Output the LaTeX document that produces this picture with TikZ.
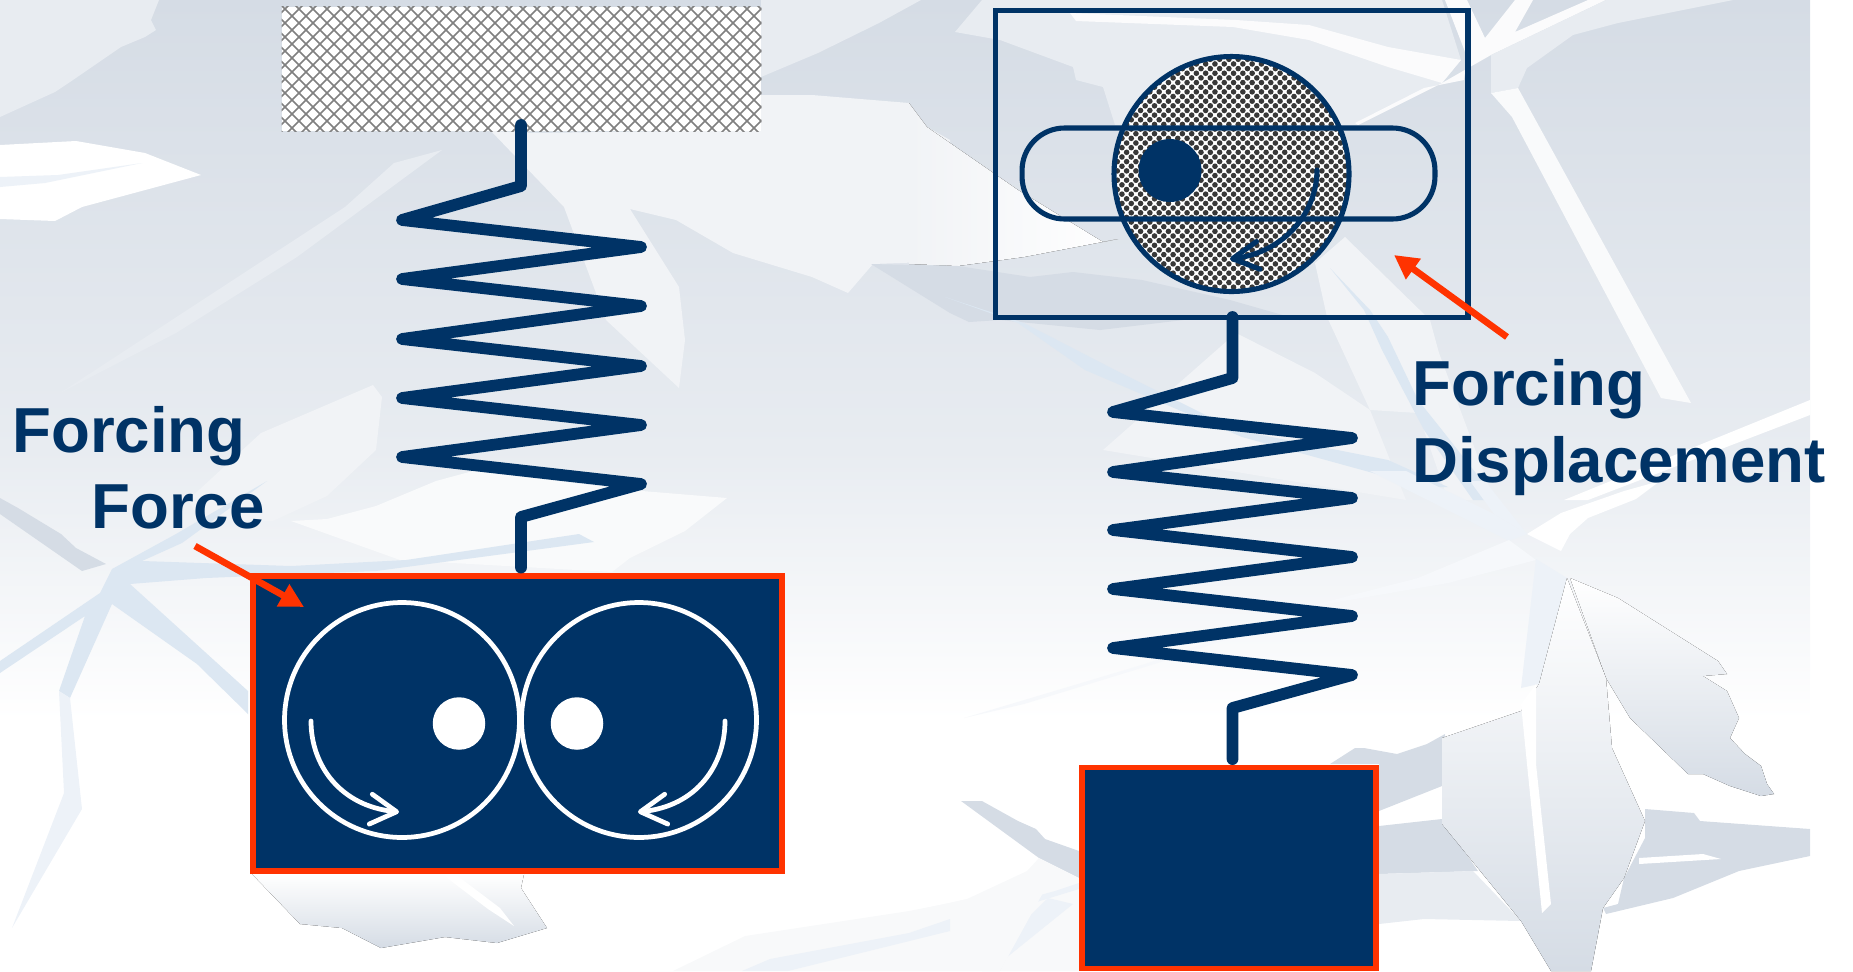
\documentclass[tikz,border=0pt]{standalone}
\usepackage{fontspec}
\setmainfont{Liberation Sans}
\usetikzlibrary{arrows.meta, calc}
\definecolor{cnavy}{HTML}{003366}
\definecolor{cred}{HTML}{FF3300}
\definecolor{cdark}{HTML}{D5DCE5}
\definecolor{cmid}{HTML}{E8ECF1}
\definecolor{clite}{HTML}{F1F3F6}
\definecolor{cblue}{HTML}{DCE7F2}
\definecolor{cpale}{HTML}{EDF2F8}
\tikzset{
  every picture/.style={x=0.02cm, y=-0.02cm},
  facet/.style={fill=#1, draw=none},
  leaf/.style={top color=white, bottom color=cdark, draw=none},
  spring/.style={draw=cnavy, line width=6.7pt, line join=round, line cap=round, shorten >=3.3pt},
  weight/.style={draw=cred, fill=cnavy, line width=3pt, inner sep=0pt},
  wheel/.style={circle, draw=white, line width=2.7pt, minimum size=4.7cm, inner sep=0pt},
  pin/.style={circle, fill=white, minimum size=1.05cm, inner sep=0pt},
  spin/.style={draw=white, line width=2.7pt, line cap=round, -{Straight Barb[length=5.2mm, width=6mm, round]}},
  tag/.style={-{Triangle[length=4.8mm, width=4.8mm]}, draw=cred, line width=3.8pt},
  label/.style={anchor=base west, inner sep=0pt, text=cnavy, font=\fontsize{36.2}{40}\selectfont\bfseries},
}
\begin{document}
\begin{tikzpicture}
  \useasboundingbox (0,0) rectangle (1853,971);

  % backdrop
  \fill[top color=cdark, bottom color=cmid] (0,0) rectangle (1810,450);
  \fill[top color=cmid, bottom color=white] (0,450) rectangle (1810,720);
  \fill[facet=cmid] (0,0) -- (159,0) -- (151,20) -- (156,30) -- (145,37) -- (121,47) -- (73,80) -- (55,92) -- (0,117) -- cycle;
  \fill[facet=white] (0,145) -- (76,141) -- (145,153) -- (201,175) -- (82,207) -- (55,221) -- (0,219) -- cycle;
  \fill[facet=cpale] (0,177) -- (58,175) -- (142,163) -- (45,183) -- (0,187) -- cycle;
  \fill[facet=cmid] (394,163) -- (442,150) -- (297,257) -- (176,333) -- (60,393) -- (345,207) -- cycle;
  \fill[facet=cmid] (761,0) -- (921,0) -- (879,23) -- (818,53) -- (761,77) -- cycle;
  \fill[facet=clite] (491,131) -- (533,133) -- (761,130) -- (761,95) -- (812,95) -- (909,103) -- (927,127) -- (950,140) -- (950,263) -- (927,262) -- (873,264) -- (848,293) -- (812,277) -- (733,253) -- (676,220) -- (630,209) -- (679,287) -- (685,340) -- (679,388) -- (606,320) -- (564,207) -- cycle;
  \fill[left color=clite, right color=white, draw=none] (909,103) -- (927,127) -- (1018,190) -- (1103,242) -- (1118,239) -- (1024,257) -- (958,266) -- (909,264) -- cycle;
  \fill[facet=cmid] (982,0) -- (1442,0) -- (1461,60) -- (1442,83) -- (1358,125) -- (1115,125) -- (1103,87) -- (1076,80) -- (1073,67) -- (1000,40) -- (955,32) -- cycle;
  \fill[facet=white!70!clite] (1070,13) -- (1236,20) -- (1309,25) -- (1388,47) -- (1461,60) -- (1442,83) -- (1388,67) -- (1309,40) -- (1233,27) -- (1076,21) -- cycle;
  \fill[facet=white!70!clite] (1445,0) -- (1467,0) -- (1485,38) -- (1515,0) -- (1533,0) -- (1515,32) -- (1588,0) -- (1606,0) -- (1491,55) -- (1442,83) -- (1358,125) -- (1355,123) -- (1424,88) -- (1464,80) -- (1467,57) -- cycle;
  \fill[facet=cmid] (1606,0) -- (1733,0) -- (1618,23) -- (1573,35) -- (1527,68) -- (1518,88) -- (1491,93) -- (1491,55) -- cycle;
  \fill[facet=white!60!clite] (1518,88) -- (1691,403) -- (1661,398) -- (1512,117) -- (1491,93) -- cycle;
  \fill[facet=cdark] (871,264) -- (958,266) -- (1030,277) -- (1073,272) -- (1142,280) -- (1230,300) -- (1300,320) -- (1200,318) -- (1100,330) -- (1000,320) -- (969,322) -- (950,313) -- cycle;
  \fill[facet=clite] (1236,333) -- (1315,373) -- (1370,410) -- (1406,500) -- (1103,450) -- cycle;
  \fill[facet=clite] (1315,263) -- (1345,237) -- (1430,320) -- (1439,353) -- (1494,500) -- (1448,500) -- (1418,413) -- (1370,410) -- (1327,317) -- cycle;
  \fill[facet=cblue] (1330,268) -- (1370,310) -- (1388,337) -- (1418,400) -- (1442,430) -- (1497,500) -- (1473,500) -- (1424,430) -- (1382,350) -- (1364,310) -- cycle;
  \fill[facet=cblue] (945,297) -- (1024,323) -- (1121,373) -- (1236,430) -- (1388,460) -- (1448,487) -- (1424,487) -- (1242,437) -- (1085,370) -- (1018,323) -- cycle;
  \fill[facet=white] (1810,400) -- (1810,415) -- (1588,500) -- (1564,500) -- cycle;
  \fill[facet=white] (1660,481) -- (1636,499) -- (1588,518) -- (1570,534) -- (1561,551) -- (1527,534) -- (1561,513) -- (1624,491) -- cycle;
  \fill[facet=cpale] (1370,471) -- (1406,471) -- (1494,514) -- (1527,534) -- (1509,541) -- cycle;
  \fill[facet=cpale] (1470,481) -- (1485,481) -- (1527,534) -- (1494,514) -- cycle;
  \fill[facet=cpale!50!white] (1509,540) -- (1536,560) -- (1448,583) -- (1327,604) -- (1164,661) -- (1024,704) -- (964,718) -- (1145,664) -- (1321,603) -- (1418,578) -- cycle;
  \fill[facet=cpale] (1536,559) -- (1567,578) -- (1539,684) -- (1521,688) -- cycle;
  \fill[leaf] (1606,678) -- (1570,578) -- (1618,598) -- (1718,661) -- (1727,674) -- (1703,676) -- (1727,691) -- (1739,718) -- (1730,738) -- (1745,754) -- (1761,766) -- (1767,784) -- (1774,794) -- (1761,796) -- (1730,786) -- (1703,774) -- (1688,774) -- (1630,718) -- cycle;
  \fill[facet=cdark] (1330,764) -- (1355,748) -- (1364,748) -- (1397,754) -- (1427,744) -- (1445,734) -- (1442,786) -- (1379,811) -- (1379,764) -- cycle;
  \fill[facet=cdark] (1379,826) -- (1442,819) -- (1478,871) -- (1379,874) -- cycle;
  \fill[facet=cmid] (1379,874) -- (1473,871) -- (1521,921) -- (1424,919) -- (1379,924) -- cycle;
  \fill[facet=cdark] (1645,809) -- (1694,813) -- (1700,821) -- (1810,829) -- (1810,856) -- (1739,871) -- (1673,898) -- (1606,914) -- (1603,908) -- (1618,904) -- (1624,878) -- (1645,838) -- cycle;
  \fill[facet=white] (1639,858) -- (1703,854) -- (1721,859) -- (1639,864) -- cycle;
  \fill[leaf] (1521,711) -- (1539,684) -- (1567,578) -- (1606,678) -- (1612,748) -- (1645,821) -- (1624,878) -- (1603,908) -- (1591,971) -- (1551,971) -- (1521,921) -- (1442,824) -- (1442,738) -- cycle;
  \fill[facet=white] (1536,764) -- (1551,904) -- (1542,913) -- (1527,764) -- (1521,704) -- (1536,684) -- cycle;
  \fill[facet=cdark] (961,801) -- (982,801) -- (1018,821) -- (1036,829) -- (1045,839) -- (1079,851) -- (1079,878) -- (1039,858) -- cycle;
  \fill[facet=clite!50!white] (1039,858) -- (1027,871) -- (967,899) -- (903,913) -- (903,971) -- (1079,971) -- (1079,878) -- cycle;
  \fill[facet=cpale] (903,933) -- (1055,891) -- (1079,883) -- (1079,889) -- (903,943) -- cycle;
  \fill[facet=cpale] (1048,898) -- (991,954) -- (982,971) -- (1000,971) -- (1006,958) -- (1073,904) -- cycle;
  \fill[facet=clite!50!white] (673,971) -- (745,936) -- (909,911) -- (950,903) -- (1050,880) -- (1000,971) -- cycle;
  \fill[facet=cpale] (742,971) -- (770,959) -- (909,933) -- (950,919) -- (950,931) -- (788,971) -- cycle;
  \fill[leaf] (252,874) -- (300,924) -- (342,928) -- (381,948) -- (445,937) -- (497,943) -- (547,928) -- (521,888) -- (524,874) -- cycle;
  \fill[facet=white] (442,874) -- (455,874) -- (500,908) -- (514,926) -- (488,909) -- cycle;
  \fill[facet=cdark] (0,498) -- (18,508) -- (61,534) -- (76,548) -- (106,564) -- (82,571) -- (0,514) -- cycle;
  \fill[facet=white!60!clite] (291,521) -- (327,519) -- (376,506) -- (436,481) -- (473,471) -- (642,491) -- (727,498) -- (685,531) -- (630,558) -- (612,572) -- (400,560) -- cycle;
  \fill[facet=clite] (188,500) -- (261,433) -- (373,385) -- (382,397) -- (376,450) -- (327,496) -- (273,521) -- (200,520) -- cycle;
  \fill[facet=cblue] (112,569) -- (176,534) -- (267,481) -- (182,543) -- (142,561) -- (291,566) -- (406,560) -- (579,534) -- (594,542) -- (376,571) -- (206,578) -- (130,584) -- (248,691) -- (248,714) -- (197,664) -- (112,604) -- (70,698) -- (59,691) -- (85,616) -- (0,673) -- (0,661) -- (100,593) -- cycle;
  \fill[facet=cpale] (70,698) -- (82,809) -- (12,928) -- (64,793) -- (59,691) -- cycle;

  % fixed support and forced mass
  \node[fill=white, minimum width=9.58cm, minimum height=2.48cm, inner sep=0pt] (support) at (521.5,69) {};
  \begin{scope}
    \clip (support.south west) rectangle (support.north east);
    \foreach \d in {0,14,...,620} {
      \draw[black!50, line width=0.9pt] (\d+150,0) -- ++(140,140);
      \draw[black!50, line width=0.9pt] (\d+280,0) -- ++(-140,140);
    }
  \end{scope}
  \coordinate (springAtop) at (521,125);
  \node[weight, minimum width=10.58cm, minimum height=5.9cm] (massA) at (517.5,723.5) {};
  \draw[spring] (springAtop) -- ++(0,61) -- (402,220) -- (641,247) -- (402,279) -- (641,306) -- (402,339) -- (641,366) -- (402,398) -- (641,425) -- (402,457) -- (641,484) -- (521,517) -- (massA.north -| springAtop);

  % counter rotating wheels
  \node[wheel] (wheelL) at (402,720) {};
  \node[wheel] (wheelR) at (639,720) {};
  \node[pin] (pinL) at (459,723.5) {};
  \node[pin] (pinR) at (577,723.5) {};
  \coordinate (startL) at (311,721);
  \coordinate (endL) at (399,812);
  \coordinate (startR) at (725,721);
  \coordinate (endR) at (638,812);
  \draw[spin] (startL) .. controls (311,765) and (340,806) .. (endL);
  \draw[spin] (startR) .. controls (725,765) and (697,806) .. (endR);

  % displacement forcing
  \node[draw=cnavy, line width=2.9pt, minimum width=9.46cm, minimum height=6.15cm, inner sep=0pt] (frame) at (1231.5,164) {};
  \node[circle, minimum size=4.7cm, inner sep=0pt] (disc) at (1231.5,174) {};
  \begin{scope}
    \clip (disc.center) circle[radius=2.35cm];
    \fill[white] (disc.center) circle[radius=2.35cm];
    \foreach \r in {0,...,52} {
      \foreach \c in {0,...,26} {
        \fill[black!78] ({1108+9.3*\c+4.65*mod(\r,2)},{50+4.65*\r}) circle[radius=0.056cm];
      }
    }
  \end{scope}
  \node[circle, draw=cnavy, line width=2.9pt, minimum size=4.7cm, inner sep=0pt] (discrim) at (disc.center) {};
  \node[draw=cnavy, line width=2.9pt, rounded corners=0.85cm, minimum width=8.26cm, minimum height=1.82cm, inner sep=0pt] (slot) at (1228.5,173.5) {};
  \node[circle, fill=cnavy, minimum size=1.26cm, inner sep=0pt] (cam) at (1170,170.5) {};
  \coordinate (camstart) at (1317,170);
  \coordinate (camend) at (1230,259);
  \draw[draw=cnavy, line width=2.9pt, line cap=round, -{Straight Barb[length=5.2mm, width=5.6mm, round]}] (camstart) .. controls (1317,212) and (1285,252) .. (camend);

  \node[weight, minimum width=5.88cm, minimum height=4.02cm] (massB) at (1229,868) {};
  \coordinate (springBtop) at (1232.5,317);
  \draw[spring] (springBtop) -- ++(0,61) -- (1113,412) -- (1352,438) -- (1113,472) -- (1352,498) -- (1113,530) -- (1352,557) -- (1113,589) -- (1352,616) -- (1113,648) -- (1352,675) -- (1232.5,708) -- (massB.north -| springBtop);

  % labels
  \node[label] (forcingA) at (12,452) {Forcing};
  \node[label] (forceA) at (91,528) {Force};
  \node[label] (forcingB) at (1412,405) {Forcing};
  \node[label] (displaceB) at (1412,482) {Displacement};
  \coordinate (tagAstart) at (195,546);
  \coordinate (tagAend) at (304,607);
  \coordinate (tagBstart) at (1507,337);
  \coordinate (tagBend) at (1394,255);
  \draw[tag] (tagAstart) -- (tagAend);
  \draw[tag] (tagBstart) -- (tagBend);
\end{tikzpicture}
\end{document}
